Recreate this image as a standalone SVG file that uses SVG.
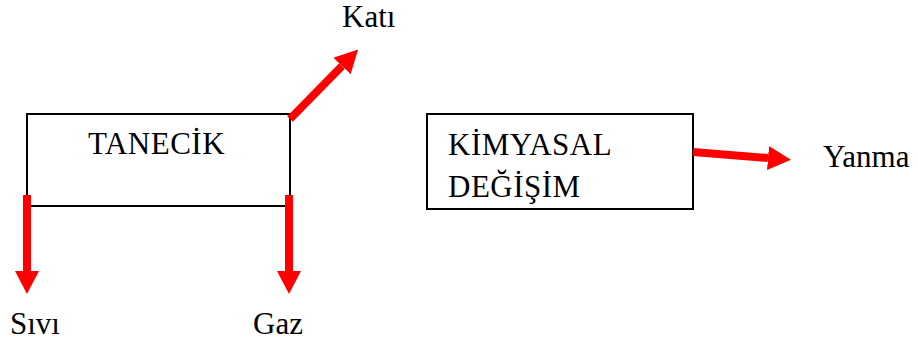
<svg xmlns="http://www.w3.org/2000/svg" width="918" height="349" viewBox="0 0 918 349">
<style>
.box{fill:#fff;stroke:#000;stroke-width:2}
.arr{stroke:#ff0000;stroke-width:8;fill:none}
.t{font-family:'Liberation Serif',serif;font-size:31px;fill:#000}
</style>
<defs>
<marker id="ah" markerUnits="userSpaceOnUse" markerWidth="24" markerHeight="24" refX="0" refY="12" orient="auto" viewBox="0 0 24 24">
<path d="M0,0 L23,12 L0,24 z" fill="#ff0000"/>
</marker>
</defs>
<g id="tanecik">
<rect class="box" x="27" y="114" width="263" height="92"/>
<text class="t" x="88" y="154" letter-spacing="0.5">TANECİK</text>
</g>
<g id="kimyasal">
<rect class="box" x="427" y="114" width="266" height="95"/>
<text class="t" x="448" y="155" letter-spacing="0.5">KİMYASAL</text>
<text class="t" x="448" y="197" letter-spacing="0.5">DEĞİŞİM</text>
</g>
<g id="kati"><text class="t" x="342" y="27">Katı</text></g>
<g id="sivi"><text class="t" x="10" y="334">Sıvı</text></g>
<g id="gaz"><text class="t" x="253" y="334">Gaz</text></g>
<g id="yanma"><text class="t" x="823" y="167">Yanma</text></g>
<g id="connectors">
<line class="arr" x1="290" y1="119" x2="342" y2="66" marker-end="url(#ah)"/>
<line class="arr" x1="27" y1="195" x2="27" y2="271" marker-end="url(#ah)"/>
<line class="arr" x1="289" y1="195" x2="289" y2="271" marker-end="url(#ah)"/>
<line class="arr" x1="693" y1="152" x2="768" y2="158" marker-end="url(#ah)"/>
</g>
</svg>
